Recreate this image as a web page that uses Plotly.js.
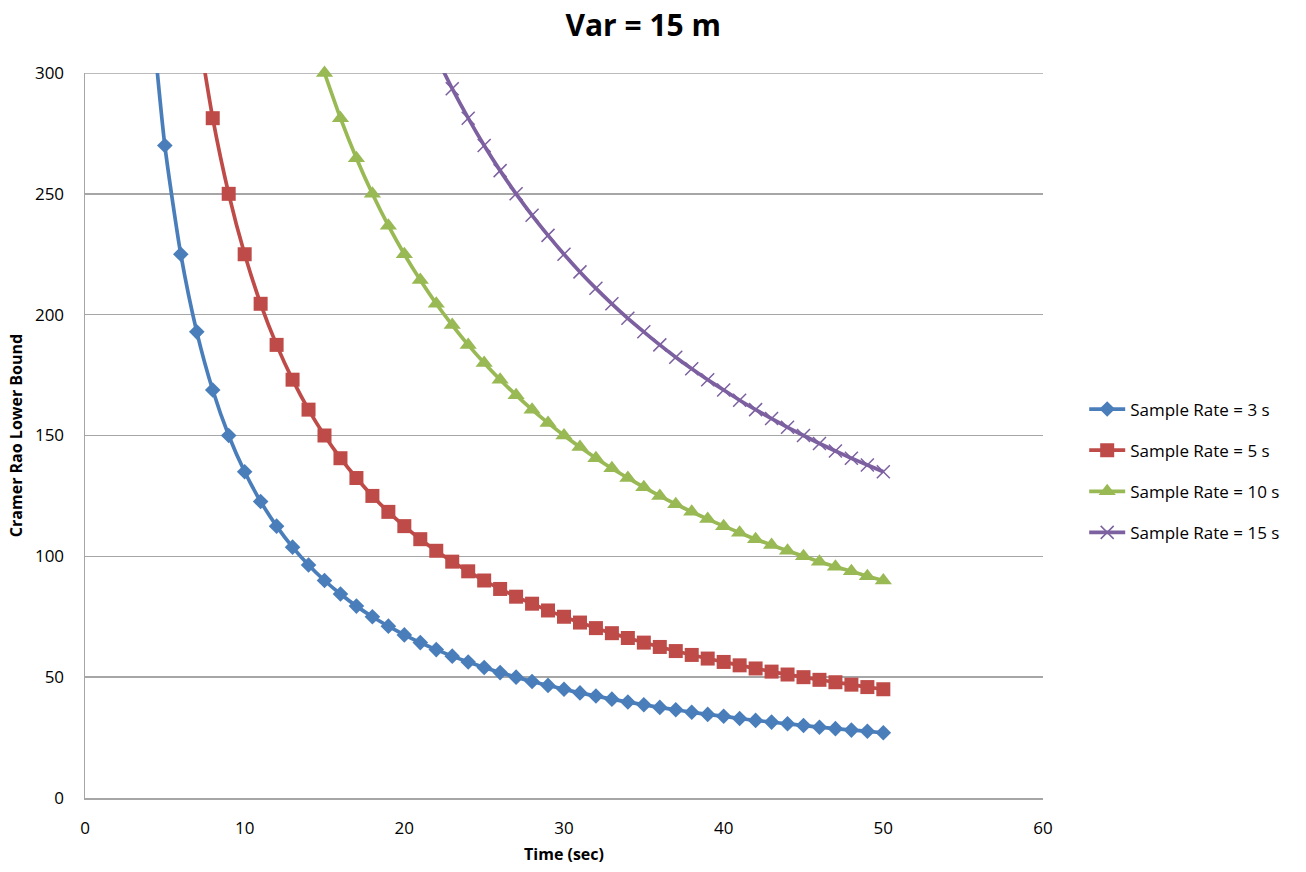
<!DOCTYPE html>
<html>
<head>
<meta charset="utf-8">
<script src="https://cdn.plot.ly/plotly-3.0.1.min.js"></script>
<style>html,body{margin:0;padding:0;background:#fff;}#chart{width:1306px;height:872px;}</style>
</head>
<body>
<div id="chart"></div>
<script>
const seriesNames = ["Sample Rate = 3 s", "Sample Rate = 5 s", "Sample Rate = 10 s", "Sample Rate = 15 s"];

const x3 = [4,5,6,7,8,9,10,11,12,13,14,15,16,17,18,19,20,21,22,23,24,25,26,27,28,29,30,31,32,33,34,35,36,37,38,39,40,41,42,43,44,45,46,47,48,49,50];
const y3 = [337.5,270,225,192.9,168.8,150,135,122.7,112.5,103.8,96.4,90,84.4,79.4,75,71.1,67.5,64.3,61.4,58.7,56.3,54,51.9,50,48.2,46.6,45,43.5,42.2,40.9,39.7,38.6,37.5,36.5,35.5,34.6,33.8,32.9,32.1,31.4,30.7,30,29.3,28.7,28.1,27.6,27];

const x5 = [7,8,9,10,11,12,13,14,15,16,17,18,19,20,21,22,23,24,25,26,27,28,29,30,31,32,33,34,35,36,37,38,39,40,41,42,43,44,45,46,47,48,49,50];
const y5 = [321.4,281.3,250,225,204.5,187.5,173.1,160.7,150,140.6,132.4,125,118.4,112.5,107.1,102.3,97.8,93.8,90,86.5,83.3,80.4,77.6,75,72.6,70.3,68.2,66.2,64.3,62.5,60.8,59.2,57.7,56.3,54.9,53.6,52.3,51.1,50,48.9,47.9,46.9,45.9,45];

const x10 = [15,16,17,18,19,20,21,22,23,24,25,26,27,28,29,30,31,32,33,34,35,36,37,38,39,40,41,42,43,44,45,46,47,48,49,50];
const y10 = [300,281.3,264.7,250,236.8,225,214.3,204.5,195.7,187.5,180,173.1,166.7,160.7,155.2,150,145.2,140.6,136.4,132.4,128.6,125,121.6,118.4,115.4,112.5,109.8,107.1,104.7,102.3,100,97.8,95.7,93.8,91.8,90];

const x15 = [22,23,24,25,26,27,28,29,30,31,32,33,34,35,36,37,38,39,40,41,42,43,44,45,46,47,48,49,50];
const y15 = [306.8,293.5,281.3,270,259.6,250,241.1,232.8,225,217.7,210.9,204.5,198.5,192.9,187.5,182.4,177.6,173.1,168.8,164.6,160.7,157,153.4,150,146.7,143.6,140.6,137.8,135];

const yTicks = [0,50,100,150,200,250,300];
const xTicks = [0,10,20,30,40,50,60];

const FONT = "Open Sans, Liberation Sans, sans-serif";
const GRID = "#a6a6a6";

function tr(x, y, name, color, symbol, size, group, clip, mline) {
  return {
    x: x, y: y, name: name, type: "scatter", mode: "lines+markers",
    legendgroup: group,
    line: {color: color, width: 3.7, shape: "spline", smoothing: 0.6},
    marker: {color: color, symbol: symbol, size: size, line: mline || {width: 0}},
    cliponaxis: clip
  };
}

const data = [
  tr(x3, y3, seriesNames[0], "#4A7EBB", "diamond", 12, "a", true),
  tr(x5, y5, seriesNames[1], "#BE4B48", "square", 14, "b", true),
  tr(x10, y10, seriesNames[2], "#98B954", "triangle-up", 15, "c", false),
  tr(x15, y15, seriesNames[3], "#7D60A0", "x-thin-open", 13, "d", true, {width: 1.5, color: "#7D60A0"})
];

const layout = {
  width: 1306, height: 872,
  paper_bgcolor: "#fff", plot_bgcolor: "#fff",
  margin: {l: 85, r: 263, t: 73, b: 74},
  font: {family: FONT, size: 16, color: "#000"},
  title: {text: "<b>Var = 15 m</b>", font: {family: FONT, size: 30, color: "#000"}, x: 0.4925, xanchor: "center", y: 0.971, yanchor: "middle"},
  showlegend: true,
  legend: {x: 1.043, xanchor: "left", y: 0.451, yanchor: "middle", font: {family: FONT, size: 17}, tracegroupgap: 16, itemwidth: 36, bgcolor: "rgba(0,0,0,0)"},
  shapes: [
    {type: "line", xref: "paper", yref: "y", x0: 0, x1: 1, y0: 300, y1: 300, line: {color: GRID, width: 1.5}, layer: "below"}
  ],
  xaxis: {
    range: [0, 60], tickvals: xTicks, ticktext: xTicks.map(String),
    showgrid: false, zeroline: false, showline: true, linecolor: GRID, linewidth: 1.5,
    ticks: "", ticklabelstandoff: 14, tickfont: {family: FONT, size: 17},
    title: {text: "<b>Time (sec)</b>", font: {family: FONT, size: 16}, standoff: 11}
  },
  yaxis: {
    range: [0, 300], tickvals: yTicks, ticktext: yTicks.map(String),
    showgrid: true, gridcolor: GRID, gridwidth: 1.5, zeroline: false,
    showline: true, linecolor: GRID, linewidth: 1.5,
    ticks: "", ticklabelstandoff: 16, tickfont: {family: FONT, size: 17},
    title: {text: "<b>Cramer Rao Lower Bound</b>", font: {family: FONT, size: 16}, standoff: 8}
  }
};

Plotly.newPlot("chart", data, layout, {displayModeBar: false, staticPlot: true});
</script>
</body>
</html>
